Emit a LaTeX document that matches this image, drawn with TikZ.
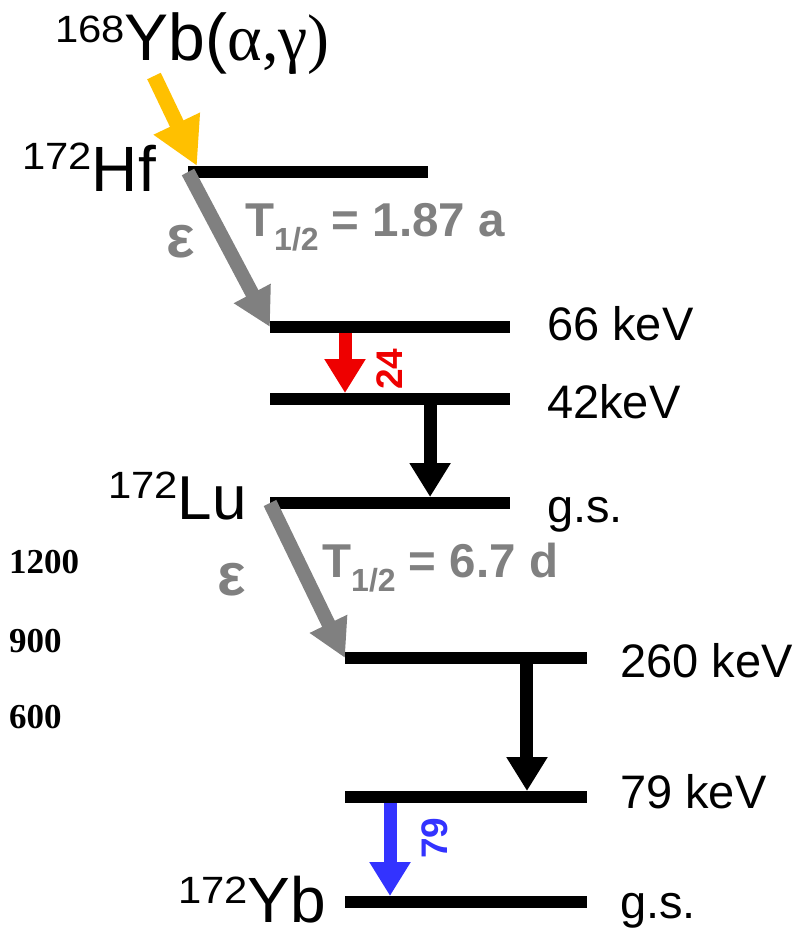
\documentclass[tikz,border=0pt]{standalone}
\usepackage{fontspec}
\usepackage{graphicx}
\setmainfont{Liberation Sans}
\newfontfamily\serifgreek{Liberation Serif}
\usetikzlibrary{arrows.meta,calc}
\definecolor{hlyellow}{HTML}{FFC000}
\definecolor{decaygray}{HTML}{808080}
\definecolor{gred}{HTML}{EE0000}
\definecolor{gblue}{HTML}{3333FF}
\newcommand\supnum[2]{\raisebox{#1}{\fontsize{38}{38}\selectfont\scalebox{1.1}[1]{#2}}}
\tikzset{
  lvl/.style={fill=black, inner sep=0pt, outer sep=0pt, minimum height=12pt, minimum width=240pt},
  gline/.style={line width=13pt, -{Triangle[width=39pt,length=34pt]}},
  decay/.style={line width=14pt, draw=decaygray, -{Triangle[width=39pt,length=38pt]}},
  feed/.style={line width=15pt, draw=hlyellow, -{Triangle[width=48pt,length=47pt]}},
  elab/.style={anchor=base west, inner sep=0pt, font=\fontsize{47}{47}\selectfont},
  nuc/.style={anchor=base west, inner sep=0pt},
  tlab/.style={anchor=base west, inner sep=0pt, text=decaygray, font=\fontsize{47.5}{47.5}\selectfont\bfseries},
  eps/.style={anchor=base, inner sep=0pt, text=decaygray, font=\fontsize{60}{60}\selectfont\bfseries},
  glab/.style={inner sep=0pt, rotate=90, font=\fontsize{37}{37}\selectfont\bfseries},
  axnum/.style={anchor=base west, inner sep=0pt, font=\fontsize{35}{35}\selectfont\serifgreek\bfseries}
}
\begin{document}
\begin{tikzpicture}[x=1pt, y=-1pt]
\path[use as bounding box] (0,0) rectangle (809,930);
% levels
\node[lvl] (hf) at (308,172) {};
\node[lvl] (l66) at (390,327) {};
\node[lvl] (l42) at (390,399) {};
\node[lvl] (lu) at (390,503) {};
\node[lvl, minimum width=242pt] (l260) at (466,658) {};
\node[lvl, minimum width=242pt] (l79) at (466,797) {};
\node[lvl, minimum width=242pt] (ybgs) at (466,902) {};
% nuclide labels
\node[nuc] (src) at (55,60) {\supnum{18pt}{168}\fontsize{66}{66}\selectfont Yb(\serifgreek α,γ)};
\node[nuc] (hflab) at (22,191) {\supnum{22pt}{172}\fontsize{64}{64}\selectfont Hf};
\node[nuc] (lulab) at (108,519) {\supnum{21pt}{172}\fontsize{62}{62}\selectfont Lu};
\node[nuc] (yblab) at (178,922) {\supnum{19pt}{172}\fontsize{64}{64}\selectfont Yb};
% energy labels
\node[elab] (e66) at (547,340) {66 keV};
\node[elab] (e42) at (547,418) {42keV};
\node[elab] (egs1) at (547,522) {g.s.};
\node[elab] (e260) at (620,677) {260 keV};
\node[elab] (e79) at (620,808) {79 keV};
\node[elab] (egs2) at (620,918) {g.s.};
% half-lives
\node[tlab] (t1) at (245,236) {T\raisebox{-14pt}{\fontsize{32}{32}\selectfont 1/2} = 1.87 a};
\node[tlab] (t2) at (322,577) {T\raisebox{-14pt}{\fontsize{32}{32}\selectfont 1/2} = 6.7 d};
\node[eps] (eps1) at (181,257) {ε};
\node[eps] (eps2) at (232,595) {ε};
% axis numbers
\node[axnum] (n1200) at (9,573) {1200};
\node[axnum] (n900) at (9,652) {900};
\node[axnum] (n600) at (9,728) {600};
% feeding arrow
\coordinate (ystart) at (154,76);
\coordinate (ytip) at (197,166);
\draw[feed] (ystart) -- (ytip);
% decay arrows
\draw[decay] (hf.west) -- (l66.west);
\draw[decay] (lu.west) -- (l260.west);
% gamma transitions
\draw[gline, color=gred] ($(l66.south west)!0.3125!(l66.south east)$) -- ($(l42.north west)!0.3125!(l42.north east)$);
\draw[gline, color=black] ($(l42.south west)!0.667!(l42.south east)$) -- ($(lu.north west)!0.667!(lu.north east)$);
\draw[gline, color=black] ($(l260.south west)!0.752!(l260.south east)$) -- ($(l79.north west)!0.752!(l79.north east)$);
\draw[gline, color=gblue] ($(l79.south west)!0.186!(l79.south east)$) -- ($(ybgs.north west)!0.186!(ybgs.north east)$);
\node[glab, text=gred] (g24) at (390,369) {24};
\node[glab, text=gblue] (g79) at (435,838) {79};
\end{tikzpicture}
\end{document}
